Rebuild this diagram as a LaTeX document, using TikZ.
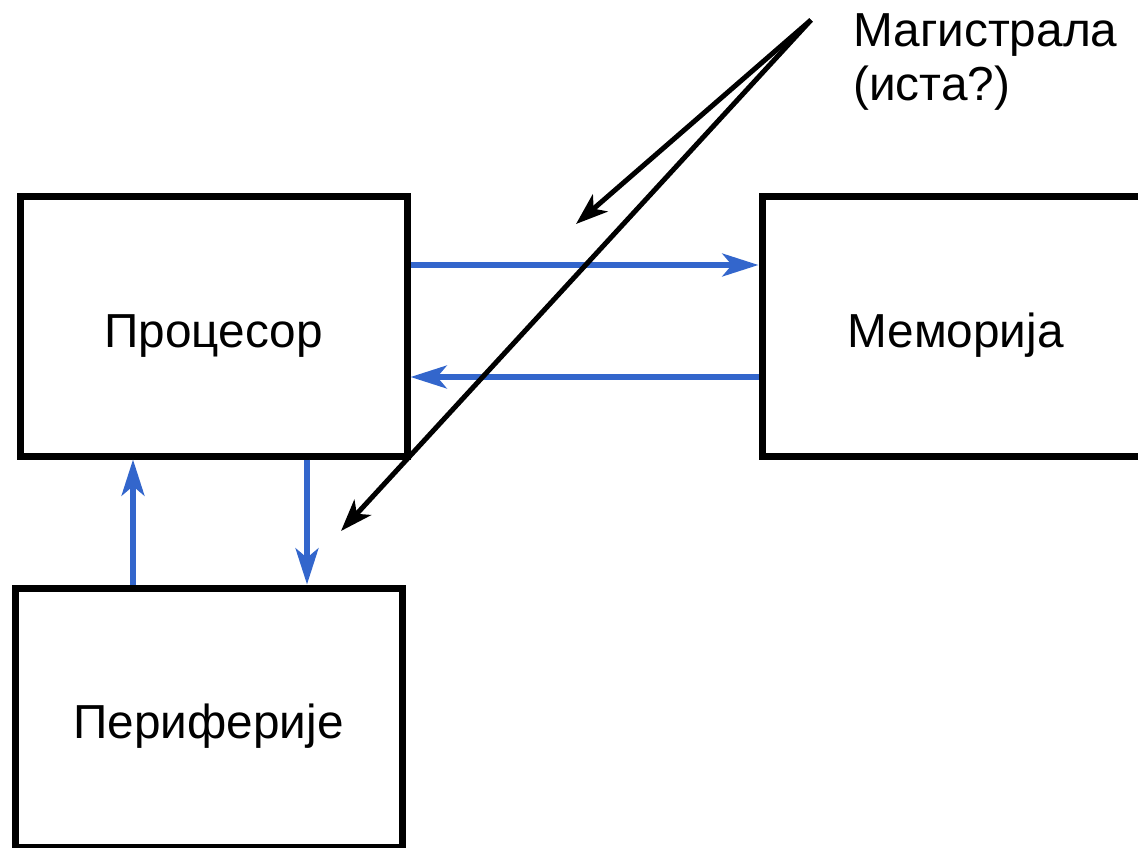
\documentclass[tikz,border=0pt]{standalone}
\usepackage{fontspec}
\setmainfont{Liberation Sans}
\usetikzlibrary{arrows.meta}
\definecolor{buslink}{RGB}{51,102,204}

\begin{document}
\begin{tikzpicture}[x=0.75pt,y=0.75pt,yscale=-1,xscale=1,
  unitbox/.style={draw, line width=5.25pt, minimum width=290.25pt, minimum height=194.25pt, inner sep=0pt, text height=31pt, text depth=0pt, font=\fontsize{35.8}{40.5}\selectfont},
  flow/.style={draw=buslink, line width=4.5pt, -{Stealth[length=27pt,width=17pt,inset=7pt]}},
  pointer/.style={draw=black, line width=3.75pt, -{Stealth[length=24pt,width=17pt,inset=6.5pt]}}]

\useasboundingbox (0,0) rectangle (1138,848);

% units
\node[unitbox] (cpu) at (213.5,326.5) {Процесор};
\node[unitbox] (mem) at (955.5,326.5) {Меморија};
\node[unitbox] (io) at (208.5,717.5) {Периферије};

% bus links
\draw[flow] (cpu.east |- 0,265) -- (mem.west |- 0,265);
\draw[flow] (mem.west |- 0,377) -- (cpu.east |- 0,377);
\draw[flow] (cpu.south -| 307,0) -- (io.north -| 307,0);
\draw[flow] (io.north -| 133,0) -- (cpu.south -| 133,0);

% bus label
\node[anchor=north west, align=left, inner sep=0pt, font=\fontsize{35.8}{40.5}\selectfont] (buslabel) at (853,13) {Магистрала\\(иста?)};
\coordinate (busorigin) at (811,20);
\coordinate (upperbus) at (576,224);
\coordinate (lowerbus) at (341,531);
\draw[pointer] (busorigin) -- (upperbus);
\draw[pointer] (busorigin) -- (lowerbus);

\end{tikzpicture}
\end{document}
